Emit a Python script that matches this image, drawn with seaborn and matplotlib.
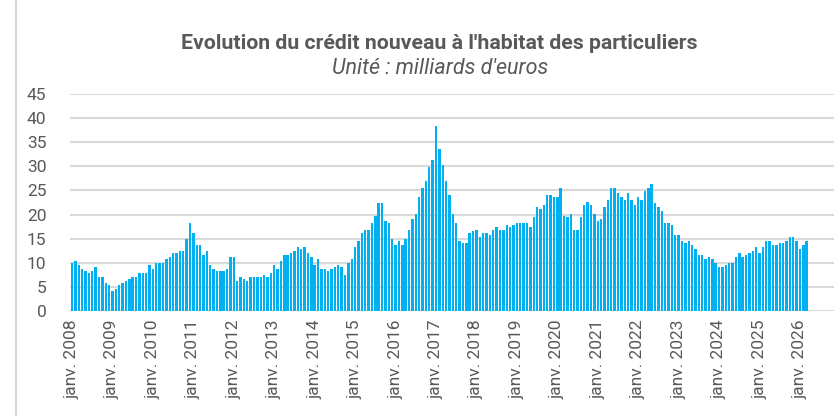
import matplotlib
matplotlib.use("Agg")
import matplotlib.pyplot as plt
import seaborn as sns
import pandas as pd
from matplotlib.lines import Line2D

# Monthly new housing credit (billions EUR), Jan 2008 - Mar 2026
v2008 = [9.9, 10.3, 9.5, 8.7, 8.3, 7.9, 8.3, 9.1, 7.0, 7.0, 5.8, 5.4]
v2009 = [4.1, 4.5, 5.4, 5.8, 6.2, 6.6, 7.0, 7.0, 7.9, 7.9, 7.9, 9.5]
v2010 = [8.7, 9.9, 9.9, 9.9, 10.7, 11.2, 12.0, 12.0, 12.4, 12.4, 14.9, 18.2]
v2011 = [16.1, 13.6, 13.6, 11.6, 12.4, 9.5, 8.7, 8.3, 8.3, 8.3, 8.7, 11.2]
v2012 = [11.2, 6.2, 7.0, 6.6, 6.2, 7.0, 7.0, 7.0, 7.0, 7.4, 7.0, 7.9]
v2013 = [9.5, 8.7, 10.3, 11.6, 11.6, 12.0, 12.4, 13.2, 12.8, 13.2, 12.0, 11.2]
v2014 = [9.5, 10.7, 8.7, 8.7, 8.3, 8.7, 9.1, 9.5, 9.1, 7.4, 9.9, 10.7]
v2015 = [13.2, 14.5, 16.1, 16.9, 16.9, 18.2, 19.8, 22.3, 22.3, 18.6, 18.2, 14.9]
v2016 = [13.6, 14.5, 13.6, 14.9, 16.9, 19.0, 20.2, 23.6, 25.6, 26.9, 29.8, 31.4]
v2017 = [38.4, 33.5, 30.2, 26.9, 24.0, 20.2, 18.2, 14.5, 14.0, 14.0, 16.1, 16.5]
v2018 = [16.9, 15.3, 16.1, 16.1, 15.7, 16.9, 17.4, 16.9, 16.9, 17.8, 17.4, 17.8]
v2019 = [18.2, 18.2, 18.2, 18.2, 17.4, 19.4, 21.5, 21.1, 21.9, 24.0, 24.0, 23.6]
v2020 = [23.6, 25.6, 19.8, 19.4, 20.2, 16.9, 16.9, 19.4, 21.9, 22.7, 21.9, 20.2]
v2021 = [18.6, 19.0, 21.5, 23.1, 25.6, 25.6, 24.4, 23.6, 23.1, 24.4, 23.1, 21.9]
v2022 = [23.6, 23.1, 24.8, 25.6, 26.4, 22.3, 21.5, 20.7, 18.2, 18.2, 17.8, 15.7]
v2023 = [15.7, 14.5, 14.0, 14.5, 13.6, 12.8, 11.6, 11.6, 10.7, 11.2, 10.7, 9.9]
v2024 = [9.1, 9.1, 9.5, 9.9, 9.9, 11.2, 12.0, 11.2, 11.6, 12.0, 12.4, 13.2]
v2025 = [12.0, 13.2, 14.5, 14.5, 13.6, 13.6, 14.0, 14.0, 14.5, 15.3, 15.3, 14.5]
v2026 = [12.8, 13.6, 14.5]

years = list(range(2008, 2027))
yearly = [v2008, v2009, v2010, v2011, v2012, v2013, v2014, v2015, v2016,
          v2017, v2018, v2019, v2020, v2021, v2022, v2023, v2024, v2025, v2026]

months = []
values = []
for y, vals in zip(years, yearly):
    for m, val in enumerate(vals, start=1):
        months.append(f"{y}-{m:02d}")
        values.append(val)

tick_labels = [f"janv. {y}" for y in years]

df = pd.DataFrame({"mois": months, "credit": values})

sns.set_theme(style="white")
plt.rcParams['font.family'] = ['Roboto', 'DejaVu Sans']

TXT = "#595959"
GRID = "#D9D9D9"
BAR = "#00B0F0"

fig = plt.figure(figsize=(8.34, 4.16), dpi=100)
ax = fig.add_axes([70/834, (416-311)/416, (834-70)/834, (311-94)/416])

sns.barplot(data=df, x="mois", y="credit", color=BAR, saturation=1,
            width=0.72, linewidth=0, ax=ax, zorder=3)

ax.set_ylim(0, 45)
ax.set_yticks(range(0, 46, 5))
ax.yaxis.grid(True, color=GRID, linewidth=1.5, zorder=0)
ax.set_axisbelow(True)
ax.set_xlim(-0.6, 226.1)

ax.set_xticks(range(0, len(months), 12))
ax.set_xticklabels(tick_labels, rotation=90)
ax.tick_params(axis="x", length=0, pad=6, labelsize=12.5, labelcolor=TXT)
ax.tick_params(axis="y", length=0, pad=17, labelsize=12.5, labelcolor=TXT)
for s in ax.spines.values():
    s.set_visible(False)
ax.set_xlabel("")
ax.set_ylabel("")

fig.text(0.527, 0.895, "Evolution du crédit nouveau à l'habitat des particuliers",
         ha="center", va="center", fontsize=15.3, fontweight="bold", color=TXT)
fig.text(0.528, 0.836, "Unité : milliards d'euros", ha="center", va="center",
         fontsize=15.5, fontstyle="italic", color=TXT)

fig.add_artist(Line2D([16/834, 16/834], [0, 1], color=GRID, linewidth=1.5,
                      transform=fig.transFigure))

fig.savefig("out.png", dpi=100)
